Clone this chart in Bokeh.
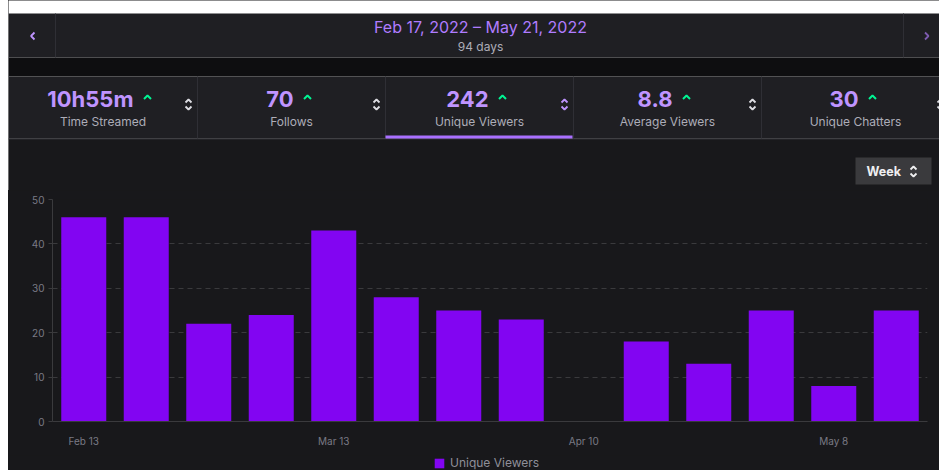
import pandas as pd
from bokeh.plotting import figure
from bokeh.models import Range1d, FixedTicker, DatetimeTickFormatter, Spacer, Legend, LegendItem
from bokeh.layouts import row, column
from bokeh.embed import file_html
from bokeh.resources import INLINE
from bokeh.core.properties import value

# ---------------- data ----------------
week_starts = ["2022-02-13", "2022-02-20", "2022-02-27", "2022-03-06", "2022-03-13",
               "2022-03-20", "2022-03-27", "2022-04-03", "2022-04-10", "2022-04-17",
               "2022-04-24", "2022-05-01", "2022-05-08", "2022-05-15"]
unique_viewers = [46, 46, 22, 24, 43, 28, 25, 23, 0, 18, 13, 25, 8, 25]
tick_dates = ["2022-02-13", "2022-03-13", "2022-04-10", "2022-05-08"]
y_ticks = [0, 10, 20, 30, 40, 50]
series_name = "Unique Viewers"

date_range_title = "Feb 17, 2022 \u2013 May 21, 2022"
date_range_days = "94 days"
stat_values = ["10h55m", "70", "242", "8.8", "30"]
stat_labels = ["Time Streamed", "Follows", "Unique Viewers", "Average Viewers", "Unique Chatters"]
selected_stat = 2
interval_label = "Week"

# ---------------- style ----------------
PURPLE_TXT = "#bf94ff"
GREEN = "#00f593"
BAR = "#8205f2"
BG_CHART = "#18181b"
BG_PANEL = "#1f1f23"
BG_DARK = "#0e0e10"
DIV = "#2f2f35"
GRAY_TXT = "#adadb8"
AX_TXT = "#7a7a85"
FONT = value("Inter")

# ---------------- header (page decoration, pixel coordinates) ----------------
header = figure(width=931, height=190, x_range=Range1d(8, 939), y_range=Range1d(190, 0),
                x_axis_location=None, y_axis_location=None, output_backend="svg",
                toolbar_location=None, min_border=0)
header.frame_align = False
header.grid.grid_line_color = None
header.outline_line_color = None
header.background_fill_color = "white"
header.border_fill_color = "white"

header.quad(left=[8, 8, 8, 8, 855], right=[950, 950, 950, 950, 931],
            top=[13, 57, 76, 138, 157], bottom=[57, 76, 138, 200, 184],
            fill_color=[BG_PANEL, BG_DARK, BG_PANEL, BG_CHART, "#3a3a3d"], line_color=None)

cell_edges = [8, 197, 385, 573, 761, 949]
cell_centers = [(a + b) / 2 for a, b in zip(cell_edges[:-1], cell_edges[1:])]
caret_x = [147, 307, 502, 686, 872]

# dividers
header.segment(x0=[55, 903] + cell_edges[1:5] + [8], x1=[55, 903] + cell_edges[1:5] + [950],
               y0=[13, 13, 76, 76, 76, 76, 138.5], y1=[57, 57, 138, 138, 138, 138, 138.5],
               line_color=DIV, line_width=1)
# selected underline
header.quad(left=[cell_edges[selected_stat]], right=[cell_edges[selected_stat + 1] - 1],
            top=[135], bottom=[138], fill_color="#a970ff", line_color=None)

# title
header.text(x=[480], y=[26], text=[date_range_title], text_align="center", text_baseline="middle",
            text_color="#b07cff", text_font=FONT, text_font_size="16px")
header.text(x=[480], y=[46], text=[date_range_days], text_align="center", text_baseline="middle",
            text_color=GRAY_TXT, text_font=FONT, text_font_size="12px")

# stat values and labels
header.text(x=[c - 14 for c in caret_x], y=[98] * 5, text=stat_values, text_align="right",
            text_baseline="middle", text_color=PURPLE_TXT, text_font=FONT,
            text_font_size="22px", text_font_style="bold")
header.text(x=cell_centers, y=[121] * 5, text=stat_labels, text_align="center",
            text_baseline="middle", text_color=GRAY_TXT, text_font=FONT, text_font_size="12px")

# green carets
header.multi_line(xs=[[c - 3.5, c, c + 3.5] for c in caret_x], ys=[[98.5, 95, 98.5]] * 5,
                  line_color=GREEN, line_width=2)

# up/down sort icons
icon_x = [e - 9 for e in cell_edges[1:]]
xs, ys, cols = [], [], []
for i, ix in enumerate(icon_x):
    col = PURPLE_TXT if i == selected_stat else "#dedee3"
    xs += [[ix - 3, ix, ix + 3], [ix - 3, ix, ix + 3]]
    ys += [[102, 99, 102], [106, 109, 106]]
    cols += [col, col]
# week button icon
xs += [[910, 913, 916], [910, 913, 916]]
ys += [[169, 166, 169], [173, 176, 173]]
cols += ["#efeff1", "#efeff1"]
# nav arrows
xs += [[34, 30.5, 34], [924.5, 928, 924.5]]
ys += [[32, 35.5, 39], [32, 35.5, 39]]
cols += [PURPLE_TXT, "#7d5bb0"]
header.multi_line(xs=xs, ys=ys, line_color=cols, line_width=1.8)

header.text(x=[866], y=[171], text=[interval_label], text_align="left", text_baseline="middle",
            text_color="#efeff1", text_font=FONT, text_font_size="12.5px", text_font_style="bold")

# ---------------- chart ----------------
dates = pd.to_datetime(week_starts)
half = pd.Timedelta(days=3.5)
day_ms = 86400000

chart = figure(width=931, height=265, x_axis_type="datetime",
               x_range=Range1d(dates[0] - half, dates[-1] + half), y_range=Range1d(0, 50),
               output_backend="svg", toolbar_location=None,
               min_border_left=44, min_border_right=12, min_border_top=9, min_border_bottom=34)
chart.frame_align = False
bars = chart.vbar(x=dates, top=unique_viewers, width=7 * 0.72 * day_ms, bottom=0,
                  fill_color=BAR, line_color=None)

chart.background_fill_color = BG_CHART
chart.border_fill_color = BG_CHART
chart.outline_line_color = None
chart.xgrid.grid_line_color = None
chart.ygrid.grid_line_color = "#3a3a3d"
chart.ygrid.grid_line_dash = "5 4"
chart.ygrid.ticker = FixedTicker(ticks=y_ticks)

chart.xaxis.ticker = FixedTicker(ticks=[pd.Timestamp(d).value // 10**6 for d in tick_dates])
chart.xaxis.formatter = DatetimeTickFormatter(days="%b %-d", months="%b %-d")
chart.yaxis.ticker = FixedTicker(ticks=y_ticks)

for ax in chart.axis:
    ax.axis_line_color = "#3a3a3d"
    ax.major_label_text_color = AX_TXT
    ax.major_label_text_font = "Inter"
    ax.major_label_text_font_size = "10px"
    ax.minor_tick_line_color = None
chart.yaxis.major_tick_line_color = "#3a3a3d"
chart.yaxis.major_tick_in = 0
chart.yaxis.major_tick_out = 4
chart.yaxis.major_label_standoff = 4
chart.xaxis.major_tick_line_color = None
chart.xaxis.major_tick_in = 0
chart.xaxis.major_tick_out = 0
chart.xaxis.major_label_standoff = 13

# ---------------- legend strip ----------------
strip = figure(width=931, height=15, x_range=Range1d(8, 939), y_range=Range1d(0, 1),
               x_axis_location=None, y_axis_location=None, output_backend="svg",
               toolbar_location=None, min_border=0)
strip.frame_align = False
strip.grid.grid_line_color = None
strip.outline_line_color = None
strip.background_fill_color = BG_CHART
strip.border_fill_color = BG_CHART
# legend swatch source (kept outside the visible range of the strip)
swatch = strip.vbar(x=[0], top=[0], width=1, fill_color=BAR, line_color=None)
leg = Legend(items=[LegendItem(label=series_name, renderers=[swatch])],
             location=(425, 0), orientation="horizontal",
             background_fill_alpha=0, border_line_color=None, padding=0, margin=0,
             glyph_width=12, glyph_height=12, label_height=12, label_standoff=5,
             label_text_color="#8f8f99", label_text_font="Inter", label_text_font_size="12px")
strip.add_layout(leg)

layout = row(Spacer(width=8, height=470),
             column(header, chart, strip, spacing=0, styles={"background-color": BG_CHART}),
             spacing=0)

open("out.html", "w").write(file_html(layout, INLINE))
